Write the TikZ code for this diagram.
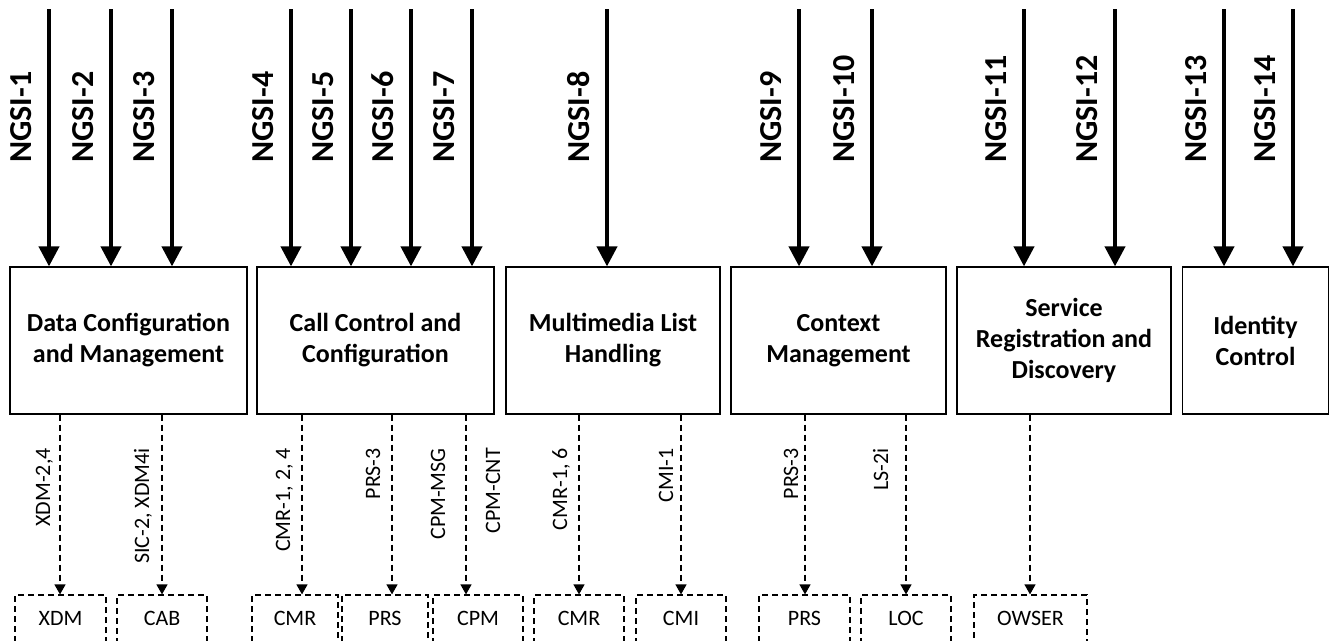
\documentclass[tikz,border=0pt]{standalone}
\usepackage{fontspec}
\setmainfont{Carlito}
\usetikzlibrary{arrows.meta}
\begin{document}
\begin{tikzpicture}[x=1pt,y=-1pt,
  fbox/.style={draw, line width=1.2pt, inner sep=0pt, font=\fontsize{26}{31}\selectfont\bfseries, align=center},
  dbox/.style={draw, dash pattern=on 6pt off 4pt, line width=1.2pt, inner sep=0pt, minimum height=47pt, font=\fontsize{22}{26}\selectfont},
  bigarrow/.style={line width=4pt, -{Triangle[length=20pt,width=20pt]}},
  darrow/.style={line width=1.2pt, dash pattern=on 6pt off 4pt, -{Triangle[length=10pt,width=11pt]}},
  nlab/.style={rotate=90, anchor=base west, inner sep=0pt, font=\fontsize{32}{36}\selectfont\bfseries},
  dlab/.style={rotate=90, anchor=base east, inner sep=0pt, font=\fontsize{22}{26}\selectfont}]
\useasboundingbox (0,0) rectangle (1330,640);
\clip (0,0) rectangle (1330,640);
\node[fbox, minimum width=237pt, minimum height=147pt] (B1) at (128.5,340.5) {Data Configuration\\and Management};
\node[fbox, minimum width=237pt, minimum height=147pt] (B2) at (375.5,340.5) {Call Control and\\Configuration};
\node[fbox, minimum width=214pt, minimum height=147pt] (B3) at (613,340.5) {Multimedia List\\Handling};
\node[fbox, minimum width=215pt, minimum height=147pt] (B4) at (838.5,340.5) {Context\\Management};
\node[fbox, minimum width=214pt, minimum height=147pt] (B5) at (1064,340.5) {Service\\Registration and\\Discovery};
\node[fbox, minimum width=146pt, minimum height=147pt] (B6) at (1255.5,340.5) {Identity\\Control};
\foreach \n/\x/\b in {1/49/B1, 2/111/B1, 3/172/B1, 4/291/B2, 5/351/B2, 6/411/B2, 7/472/B2, 8/607/B3, 9/799/B4, 10/872/B4, 11/1024/B5, 12/1115/B5, 13/1224/B6, 14/1293/B6} {
  \coordinate (t\n) at (\x,9);
  \draw[bigarrow] (t\n) -- (t\n |- \b.north);
  \node[nlab] (n\n) at (\x-18,163) {NGSI-\n};
}
\foreach \n/\c/\w/\t in {1/60.5/91/XDM, 2/162/90/CAB, 3/295/86/CMR, 4/385/86/PRS, 5/478/90/CPM, 6/579/90/CMR, 7/681/90/CMI, 8/804.5/91/PRS, 9/906/90/LOC, 10/1030.5/113/OWSER} {
  \node[dbox, minimum width=\w pt] (D\n) at (\c,618.5) {\t};
}
\foreach \n/\x/\b in {1/60/B1, 2/162/B1, 3/302/B2, 4/392/B2, 5/466/B2, 6/579/B3, 7/681/B3, 8/805/B4, 9/906/B4, 10/1030/B5} {
  \coordinate (s\n) at (\x,414);
  \draw[darrow] (\b.south -| s\n) -- (s\n |- D\n.north);
}
\node[dlab] (l1) at (50,448) {XDM-2,4};
\node[dlab] (l2) at (149,448) {SIC-2, XDM4i};
\node[dlab] (l3) at (290,448) {CMR-1, 2, 4};
\node[dlab] (l4) at (380,448) {PRS-3};
\node[dlab] (l5) at (445,448) {CPM-MSG};
\node[dlab] (l6) at (500,448) {CPM-CNT};
\node[dlab] (l7) at (567,448) {CMR-1, 6};
\node[dlab] (l8) at (673,448) {CMI-1};
\node[dlab] (l9) at (798,448) {PRS-3};
\node[dlab] (l10) at (888,448) {LS-2i};
\end{tikzpicture}
\end{document}
